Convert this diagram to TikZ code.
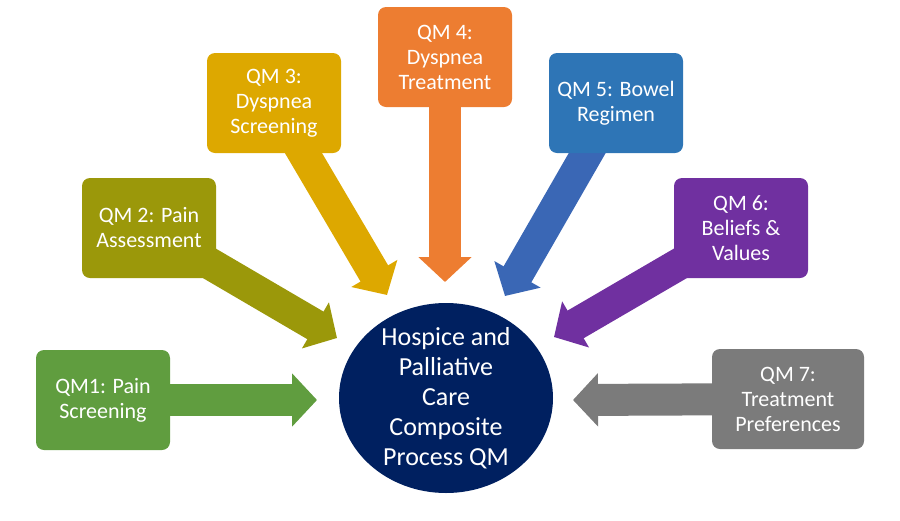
\documentclass[tikz,border=0pt]{standalone}
\usepackage{fontspec}
\setmainfont{Carlito}
\usetikzlibrary{arrows.meta,shapes.geometric,backgrounds}

\definecolor{qmgreen}{HTML}{609D3F}
\definecolor{qmolive}{HTML}{9B980A}
\definecolor{qmgold}{HTML}{DDA800}
\definecolor{qmorange}{HTML}{ED7D31}
\definecolor{qmblue}{HTML}{2E75B6}
\definecolor{qmarrowblue}{HTML}{3A67B5}
\definecolor{qmpurple}{HTML}{7030A0}
\definecolor{qmgray}{HTML}{7B7B7B}
\definecolor{hubnavy}{HTML}{002060}

\begin{document}
\begin{tikzpicture}[x=1pt,y=-1pt,
  box/.style={rounded corners=8pt,text=white,align=center,
    minimum width=134pt,minimum height=100pt,
    font=\fontsize{22}{25}\selectfont},
  flow/.style={line width=32pt,-{Triangle[length=25pt,width=52pt]}}]
\useasboundingbox (0,0) rectangle (900,520);

% central measure
\node[ellipse,fill=hubnavy,minimum width=214pt,minimum height=190pt] (hub) at (446,398) {};
\node[text=white,align=center,font=\fontsize{26}{30}\selectfont] (hubtext) at (hub.center)
  {Hospice and\\Palliative\\Care\\Composite\\Process QM};

% the seven measures
\node[box,fill=qmgreen] (qm1) at (103,400) {QM1: Pain\\Screening};
\node[box,fill=qmolive] (qm2) at (149,228) {QM 2: Pain\\Assessment};
\node[box,fill=qmgold] (qm3) at (274,103) {QM 3:\\Dyspnea\\Screening};
\node[box,fill=qmorange] (qm4) at (445,57) {QM 4:\\Dyspnea\\Treatment};
\node[box,fill=qmblue] (qm5) at (616,103) {QM 5: Bowel\\Regimen};
\node[box,fill=qmpurple] (qm6) at (741,228) {QM 6:\\Beliefs \&\\Values};
\node[box,fill=qmgray,minimum width=152pt] (qm7) at (788,399) {QM 7:\\Treatment\\Preferences};

% arrow tips
\coordinate (t1) at (317,400);
\coordinate (t2) at (337,338);
\coordinate (t3) at (387,295);
\coordinate (t4) at (445,282);
\coordinate (t5) at (505,296);
\coordinate (t6) at (554,337);
\coordinate (t7) at (573,400);

\begin{scope}[on background layer]
  \draw[flow,qmgreen] (qm1.center) -- (t1);
  \draw[flow,qmolive] (qm2.center) -- (t2);
  \draw[flow,qmgold] (qm3.center) -- (t3);
  \draw[flow,qmorange] (qm4.center) -- (t4);
  \draw[flow,qmarrowblue] (qm5.center) -- (t5);
  \draw[flow,qmpurple] (qm6.center) -- (t6);
  \draw[flow,qmgray] (qm7.center) -- (t7);
\end{scope}
\end{tikzpicture}
\end{document}
